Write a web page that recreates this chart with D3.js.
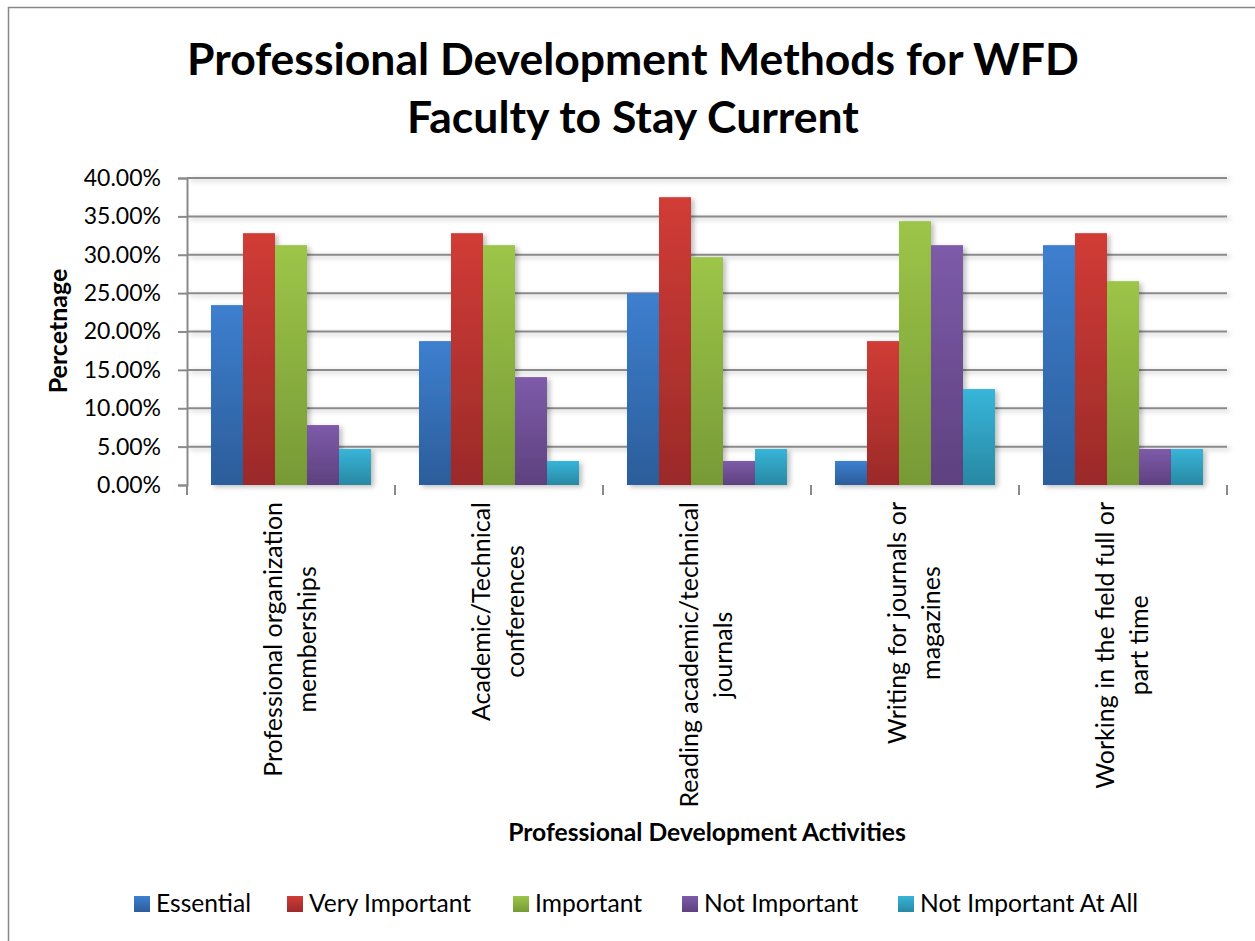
<html>
<head>
<meta charset="utf-8">
<script src="https://d3js.org/d3.v7.min.js"></script>
<style>
  body { margin: 0; background: #ffffff; }
  svg text { font-family: Lato, "Open Sans", sans-serif; fill: #000; }
  .grid line { stroke: #8a8a8a; stroke-width: 2; }
  .axis path, .axis line { stroke: #8a8a8a; stroke-width: 2; fill: none; }
  .axis text { font-size: 23px; }
</style>
</head>
<body>
<script>
// ---- data
var categories = [
  ["Professional organization", "memberships"],
  ["Academic/Technical", "conferences"],
  ["Reading academic/technical", "journals"],
  ["Writing for journals or", "magazines"],
  ["Working in the field full or", "part time"]
];
var seriesNames = ["Essential", "Very Important", "Important", "Not Important", "Not Important At All"];
var essential     = [0.2344, 0.1875, 0.25,   0.0313, 0.3125];
var veryImportant = [0.3281, 0.3281, 0.375,  0.1875, 0.3281];
var important     = [0.3125, 0.3125, 0.2969, 0.3438, 0.2656];
var notImportant  = [0.0781, 0.1406, 0.0313, 0.3125, 0.0469];
var notAtAll      = [0.0469, 0.0313, 0.0469, 0.125,  0.0469];
var yTicks = [0, 0.05, 0.10, 0.15, 0.20, 0.25, 0.30, 0.35, 0.40];

var seriesValues = [essential, veryImportant, important, notImportant, notAtAll];
// light (top) / dark (bottom) of each bar gradient
var colorTop = ["#3d7fcf", "#d13c36", "#9dc548", "#7d5ba9", "#37b5d9"];
var colorBot = ["#2c5d9a", "#9b2a29", "#779a36", "#5e417f", "#2888a3"];

var width = 1255, height = 941;
var plot = { left: 187, right: 1227, top: 178, bottom: 485 };

var svg = d3.select("body").append("svg")
    .attr("width", width)
    .attr("height", height);

var defs = svg.append("defs");
seriesNames.forEach(function(s, i){
  var g = defs.append("linearGradient")
      .attr("id", "grad" + i)
      .attr("x1", 0).attr("y1", 0).attr("x2", 0).attr("y2", 1);
  g.append("stop").attr("offset", "0%").attr("stop-color", colorTop[i]);
  g.append("stop").attr("offset", "100%").attr("stop-color", colorBot[i]);
});
var shadow = defs.append("filter").attr("id", "shadow")
    .attr("x", "-20%").attr("y", "-20%").attr("width", "160%").attr("height", "160%");
shadow.append("feDropShadow")
    .attr("dx", 3).attr("dy", 2).attr("stdDeviation", 2.5)
    .attr("flood-color", "#000").attr("flood-opacity", 0.25);

// frame
svg.append("path")
    .attr("d", "M8.5," + height + "V7.5H" + width)
    .attr("fill", "none").attr("stroke", "#878787").attr("stroke-width", 1.5);

// *** scales
var catKeys = categories.map(function(d, i){ return i; });
var x0 = d3.scaleBand().domain(catKeys)
    .range([plot.left, plot.right])
    .paddingInner(48 / 208).paddingOuter(24 / 208);
var x1 = d3.scaleBand().domain(d3.range(seriesNames.length))
    .range([0, x0.bandwidth()]);
var y = d3.scaleLinear().domain([0, 0.4]).range([plot.bottom, plot.top]);

// *** gridlines
svg.append("g").attr("class", "grid")
    .attr("filter", "url(#shadow)")
  .selectAll("line").data(yTicks.slice(1)).enter().append("line")
    .attr("x1", plot.left).attr("x2", plot.right)
    .attr("y1", function(d){ return y(d); })
    .attr("y2", function(d){ return y(d); });

// *** bars
var groups = svg.append("g").selectAll("g")
    .data(catKeys).enter().append("g")
    .attr("transform", function(d){ return "translate(" + x0(d) + ",0)"; });

groups.selectAll("rect")
    .data(function(c){ return seriesValues.map(function(v, s){ return { s: s, v: v[c] }; }); })
    .enter().append("rect")
    .attr("x", function(d){ return x1(d.s); })
    .attr("width", x1.bandwidth())
    .attr("y", function(d){ return y(d.v); })
    .attr("height", function(d){ return y(0) - y(d.v); })
    .attr("fill", function(d){ return "url(#grad" + d.s + ")"; })
    .attr("filter", "url(#shadow)");

// *** y axis
var yAxis = d3.axisLeft(y).tickValues(yTicks)
    .tickFormat(d3.format(".2%")).tickSizeOuter(0).tickSize(9).tickPadding(17);
svg.append("g").attr("class", "axis")
    .attr("transform", "translate(" + plot.left + ",0)")
    .call(yAxis);

// *** x axis: tick marks on category boundaries
var xAxisG = svg.append("g").attr("class", "axis");
xAxisG.append("line")
    .attr("x1", plot.left).attr("x2", plot.right)
    .attr("y1", plot.bottom).attr("y2", plot.bottom)
    .attr("filter", "url(#shadow)");
var step = x0.step();
xAxisG.selectAll("line.tick")
    .data(d3.range(categories.length + 1)).enter().append("line")
    .attr("class", "tick")
    .attr("x1", function(d){ return plot.left + d * step; })
    .attr("x2", function(d){ return plot.left + d * step; })
    .attr("y1", plot.bottom).attr("y2", plot.bottom + 10);

// rotated, two-line category labels
var labelTop = 502, lineGap = 34;
categories.forEach(function(lines, i){
  var cx = x0(i) + x0.bandwidth() / 2;
  var g = svg.append("g");
  var texts = lines.map(function(t){
    return g.append("text").attr("font-size", 25).attr("text-anchor", "middle").text(t);
  });
  var maxLen = d3.max(texts, function(t){ return t.node().getComputedTextLength(); });
  var cy = labelTop + maxLen / 2;
  texts.forEach(function(t, k){
    var off = (k - (lines.length - 1) / 2) * lineGap;
    t.attr("transform", "translate(" + (cx + off + 8) + "," + cy + ") rotate(-90)");
  });
});

// *** titles
svg.append("text")
    .attr("x", 633).attr("y", 75)
    .attr("text-anchor", "middle")
    .attr("font-size", 44.5).attr("font-weight", "bold")
    .text("Professional Development Methods for WFD");
svg.append("text")
    .attr("x", 633).attr("y", 133)
    .attr("text-anchor", "middle")
    .attr("font-size", 44.5).attr("font-weight", "bold")
    .text("Faculty to Stay Current");

svg.append("text")
    .attr("transform", "translate(67,331) rotate(-90)")
    .attr("text-anchor", "middle")
    .attr("font-size", 25).attr("font-weight", "bold")
    .text("Percetnage");

svg.append("text")
    .attr("x", (plot.left + plot.right) / 2).attr("y", 841)
    .attr("text-anchor", "middle")
    .attr("font-size", 24.7).attr("font-weight", "bold")
    .text("Professional Development Activities");

// *** legend
var legendX = [134, 287, 513, 682, 898];
var legend = svg.append("g").selectAll("g")
    .data(seriesNames).enter().append("g")
    .attr("transform", function(d, i){ return "translate(" + legendX[i] + ",896)"; });
legend.append("rect")
    .attr("width", 16).attr("height", 16)
    .attr("fill", function(d, i){ return "url(#grad" + i + ")"; });
legend.append("text")
    .attr("x", 22).attr("y", 16)
    .attr("font-size", 24.6)
    .text(function(d){ return d; });
</script>
</body>
</html>
